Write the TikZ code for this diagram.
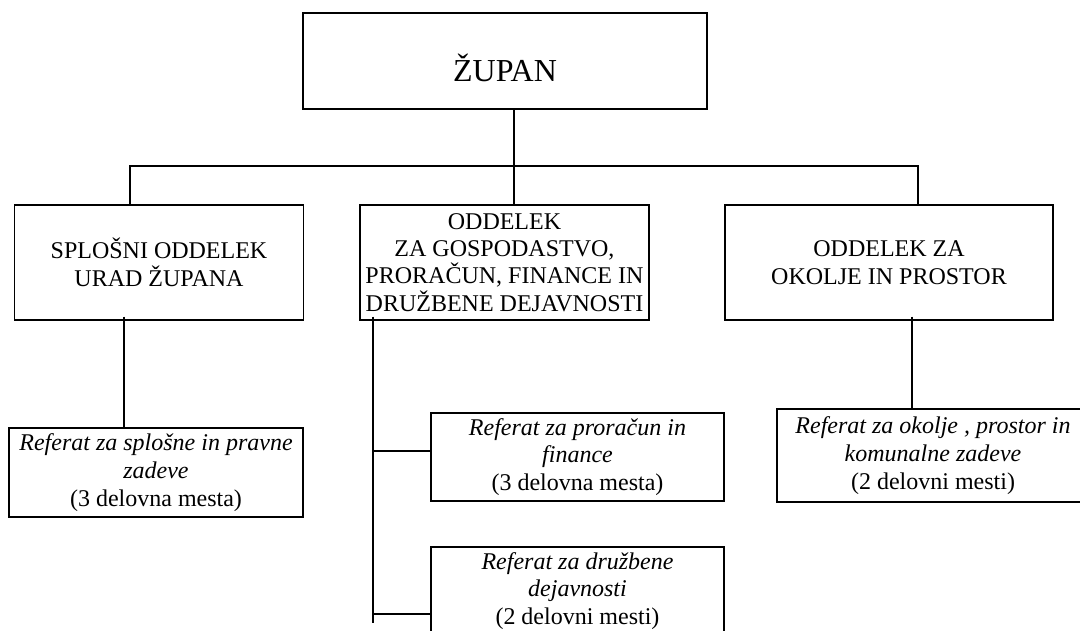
\documentclass[tikz,border=0pt]{standalone}
\usepackage{fontspec}
\setmainfont{Liberation Serif}
\begin{document}
\begin{tikzpicture}[x=1pt,y=-1pt,
  box/.style={draw, line width=1.2pt, inner sep=0pt, align=center,
    font=\fontsize{24}{27.6}\selectfont},
  conn/.style={line width=1.2pt}]
\useasboundingbox (0,0) rectangle (1080,630);
\clip (0,0) rectangle (1080,630);
% top
\node[box, minimum width=404pt, minimum height=96pt,
  font=\fontsize{32}{36}\selectfont, text height=40pt, text depth=0pt]
  (zupan) at (505,61) {ŽUPAN};
% departments
\node[box, minimum width=289pt, minimum height=115pt] (left) at (159,262.5)
  {SPLOŠNI ODDELEK\\URAD ŽUPANA};
\node[box, minimum width=289pt, minimum height=115pt,
  font=\fontsize{24}{27.3}\selectfont] (mid) at (504.5,262.5)
  {ODDELEK\\ZA GOSPODASTVO,\\PRORAČUN, FINANCE IN\\DRUŽBENE DEJAVNOSTI};
\node[box, minimum width=328pt, minimum height=115pt] (right) at (889,262.5)
  {ODDELEK ZA\\OKOLJE IN PROSTOR};
% referats
\node[box, minimum width=294pt, minimum height=89pt] (refL) at (156,472.5)
  {\itshape Referat za splošne in pravne\\\itshape zadeve\\(3 delovna mesta)};
\node[box, minimum width=293pt, minimum height=88pt] (refM1) at (577.5,457)
  {\itshape Referat za proračun in\\\itshape finance\\(3 delovna mesta)};
\node[box, minimum width=293pt, minimum height=88pt] (refM2) at (577.5,591)
  {\itshape Referat za družbene\\\itshape dejavnosti\\(2 delovni mesti)};
\node[box, minimum width=312pt, minimum height=93pt] (refR) at (933,455.5)
  {\itshape Referat za okolje , prostor in\\\itshape komunalne zadeve\\(2 delovni mesti)};
% connectors
\coordinate (hub) at (514,166);
\coordinate (busL) at (130,166);
\coordinate (busR) at (918,166);
\draw[conn] (zupan.south -| hub) -- (mid.north -| hub);
\draw[conn] (left.north -| busL) -- (busL) -- (busR) -- (right.north -| busR);
\coordinate (dropL) at (124,375);
\draw[conn] ([yshift=4pt]left.south -| dropL) -- ([yshift=-2pt]refL.north -| dropL);
\coordinate (dropR) at (912,365);
\draw[conn] ([yshift=4pt]right.south -| dropR) -- ([yshift=-2pt]refR.north -| dropR);
\coordinate (spine) at (373,623);
\draw[conn] ([yshift=4pt]mid.south -| spine) -- (spine);
\coordinate (br1) at (373,451);
\coordinate (br2) at (373,614);
\draw[conn] (br1) -- (br1 -| refM1.west);
\draw[conn] (br2) -- (br2 -| refM2.west);
\end{tikzpicture}
\end{document}
